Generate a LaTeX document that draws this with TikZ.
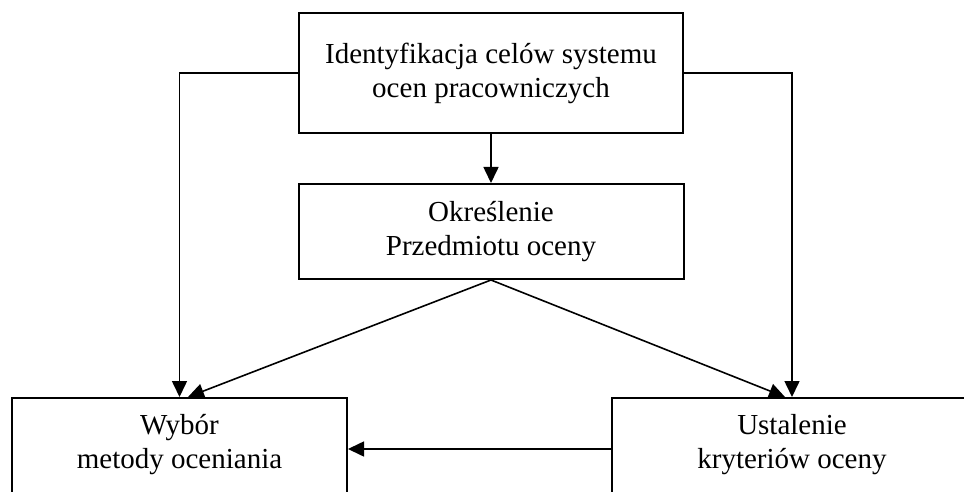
\documentclass[tikz,border=0pt]{standalone}
\usepackage{fontspec}
\setmainfont{Liberation Serif}
\usetikzlibrary{arrows.meta,positioning}
\tikzset{
  boxfont/.style={align=center,inner sep=0pt,font=\fontsize{29}{34}\selectfont},
  stepbox/.style={draw,line width=2pt,boxfont},
  edge/.style={-{Triangle[length=16pt,width=15pt]},line width=1.6pt}
}

\begin{document}
\begin{tikzpicture}[x=1pt,y=-1pt]
  \clip (0,0) rectangle (964,492);
  \useasboundingbox (0,0) rectangle (964,492);
  \node[stepbox,minimum width=384pt,minimum height=120pt] (ident) at (491,73)
    {Identyfikacja celów systemu\\ocen pracowniczych};
  \node[stepbox,minimum width=385pt,minimum height=95pt,below=49pt of ident] (okr)
    {Określenie\\Przedmiotu oceny};
  % bottom boxes run past the lower edge; text sits a bit above their centre
  \node[stepbox,minimum width=335pt,minimum height=102pt,
    label={[boxfont,yshift=4pt]center:Wybór\\metody oceniania}] (wybor) at (179.5,449) {};
  \node[stepbox,minimum width=360pt,minimum height=102pt,
    label={[boxfont,yshift=4pt]center:Ustalenie\\kryteriów oceny}] (ustal) at (792,449) {};
  \draw[edge] (ident) -- (okr);
  \draw[edge] (ident.west) -| (wybor.north);
  \draw[edge] (ident.east) -| (ustal.north);
  \draw[edge] (okr.south) -- ([xshift=8.5pt]wybor.north);
  \draw[edge] (okr.south) -- ([xshift=-7pt]ustal.north);
  \draw[edge] (ustal) -- (wybor);
\end{tikzpicture}
\end{document}
